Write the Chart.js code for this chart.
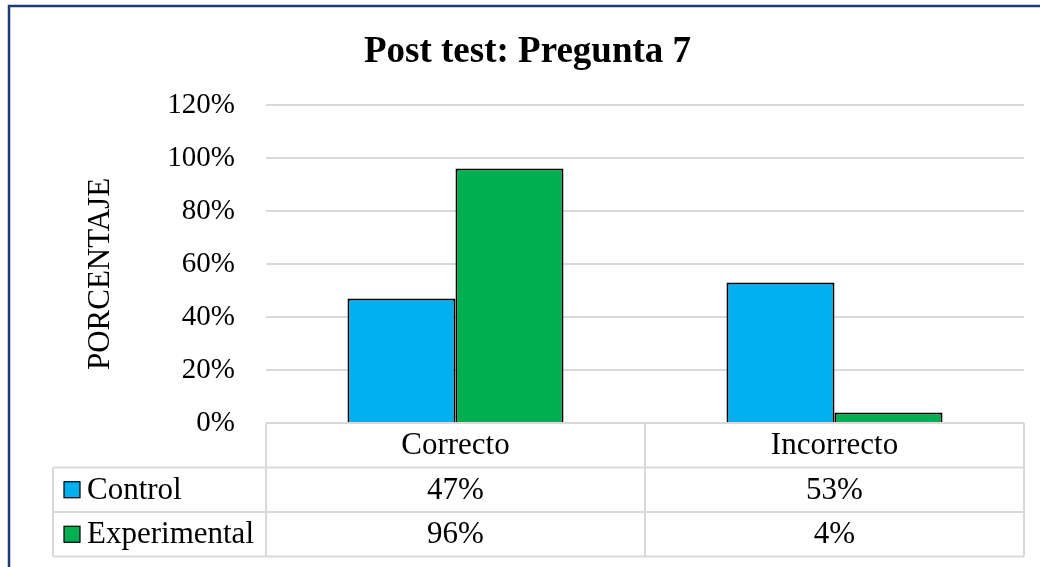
<!DOCTYPE html>
<html lang="es">
<head>
<meta charset="utf-8">
<title>Post test: Pregunta 7</title>
<script src="https://cdn.jsdelivr.net/npm/chart.js@4/dist/chart.umd.min.js"></script>
<style>
    html, body { margin: 0; padding: 0; background: #fff; }
    #wrap { width: 1040px; height: 567px; }
</style>
</head>
<body>
<div id="wrap"><canvas id="chart" width="1040" height="567"></canvas></div>
<script>
// ─── Data ──────────────────────────────────
const categories   = ['Correcto', 'Incorrecto'];
const controlVals  = [0.47, 0.53];
const experimVals  = [0.96, 0.04];
const seriesNames  = ['Control', 'Experimental'];
const seriesColors = ['#00B0F0', '#00B050'];
const yTicks       = [0, 0.2, 0.4, 0.6, 0.8, 1.0, 1.2];
const yTitle       = 'PORCENTAJE';

const SERIF = '"Liberation Serif", "Times New Roman", serif';
const GRID  = '#d9d9d9';
const pct   = v => Math.round(v * 100) + '%';

// ─── Plugins ───────────────────────────────

const frame = {
    id: 'frame',
    afterDraw(chart) {
        const ctx = chart.ctx;
        ctx.save();
        ctx.strokeStyle = '#1F3A78';
        ctx.lineWidth = 2.5;
        ctx.beginPath();
        ctx.moveTo(9, chart.height);
        ctx.lineTo(9, 6);
        ctx.lineTo(chart.width, 6);
        ctx.stroke();
        ctx.restore();
    }
};

// rotated axis title, placed where Excel puts it
const axisTitle = {
    id: 'axisTitle',
    afterDraw(chart) {
        const ctx  = chart.ctx;
        const area = chart.chartArea;
        ctx.save();
        ctx.translate(101, (area.top + area.bottom) / 2 + 10);
        ctx.rotate(-Math.PI / 2);
        ctx.fillStyle = '#000';
        ctx.font = '31px ' + SERIF;
        ctx.textAlign = 'center';
        ctx.textBaseline = 'middle';
        ctx.fillText(yTitle, 0, 0);
        ctx.restore();
    }
};

// data table under the plot, like Excel's "data table with legend keys"
const dataTable = {
    id: 'dataTable',
    afterDraw(chart) {
        const ctx  = chart.ctx;
        const area = chart.chartArea;
        const x    = chart.scales.x;
        const rowH = 44.5;
        const top  = area.bottom;
        const left = 53;
        const values = [controlVals, experimVals];

        ctx.save();
        ctx.strokeStyle = GRID;
        ctx.lineWidth = 2;

        // horizontal lines
        ctx.beginPath();
        ctx.moveTo(area.left, top);               ctx.lineTo(area.right, top);
        for (let r = 1; r <= 3; r++) {
            const y = top + r * rowH;
            ctx.moveTo(left, y); ctx.lineTo(area.right, y);
        }
        // vertical lines
        ctx.moveTo(left, top + rowH);      ctx.lineTo(left, top + 3 * rowH);
        ctx.moveTo(area.left, top);        ctx.lineTo(area.left, top + 3 * rowH);
        const mid = (x.getPixelForValue(0) + x.getPixelForValue(1)) / 2;
        ctx.moveTo(mid, top);              ctx.lineTo(mid, top + 3 * rowH);
        ctx.moveTo(area.right, top);       ctx.lineTo(area.right, top + 3 * rowH);
        ctx.stroke();

        ctx.fillStyle = '#000';
        ctx.font = '31px ' + SERIF;
        ctx.textAlign = 'center';
        ctx.textBaseline = 'middle';

        categories.forEach((c, i) => {
            const cx = x.getPixelForValue(i);
            ctx.fillText(c, cx, top + rowH / 2 + 1);
            values.forEach((vals, r) => {
                ctx.fillText(pct(vals[i]), cx, top + (r + 1.5) * rowH + 1);
            });
        });

        ctx.textAlign = 'left';
        seriesNames.forEach((name, r) => {
            const cy = top + (r + 1.5) * rowH;
            ctx.fillStyle = seriesColors[r];
            ctx.fillRect(64, cy - 8, 16, 16);
            ctx.strokeStyle = '#000';
            ctx.lineWidth = 1.2;
            ctx.strokeRect(64, cy - 8, 16, 16);
            ctx.fillStyle = '#000';
            ctx.fillText(name, 87, cy + 1);
        });
        ctx.restore();
    }
};

// ─── Chart ─────────────────────────────────

new Chart(document.getElementById('chart').getContext('2d'), {
    type: 'bar',
    data: {
        labels: categories,
        datasets: [
            { label: seriesNames[0], data: controlVals, backgroundColor: seriesColors[0] },
            { label: seriesNames[1], data: experimVals, backgroundColor: seriesColors[1] }
        ]
    },
    options: {
        responsive: false,
        animation: false,
        devicePixelRatio: 1,
        layout: { padding: { left: 31, right: 16, top: 0, bottom: 144 } },
        datasets: {
            bar: {
                categoryPercentage: 0.57,
                barPercentage: 1.0,
                borderColor: '#000',
                borderWidth: 2
            }
        },
        plugins: {
            legend: { display: false },
            tooltip: { enabled: false },
            title: {
                display: true,
                text: 'Post test: Pregunta 7',
                color: '#000',
                font: { family: SERIF, size: 37, weight: 'bold' },
                padding: { top: 30, bottom: 30.6 }
            }
        },
        scales: {
            x: { display: false },
            y: {
                min: 0,
                max: 1.2,
                afterFit: s => { s.width = 235; },
                afterBuildTicks: s => { s.ticks = yTicks.map(v => ({ value: v })); },
                border: { display: false },
                grid: { color: GRID, lineWidth: 2, drawTicks: false },
                ticks: {
                    padding: 31,
                    color: '#000',
                    font: { family: SERIF, size: 29 },
                    callback: v => pct(v)
                }
            }
        }
    },
    plugins: [dataTable, axisTitle, frame]
});
</script>
</body>
</html>
